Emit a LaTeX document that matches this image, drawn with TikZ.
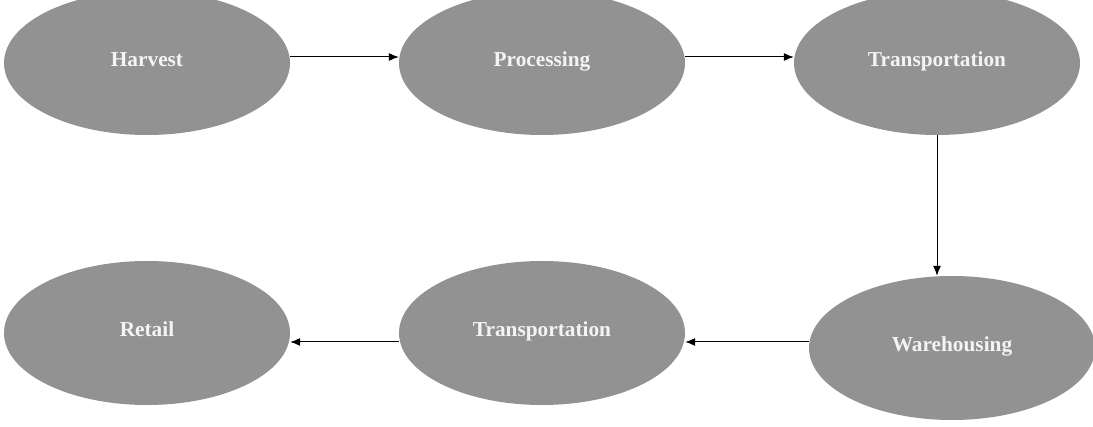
\documentclass[tikz,border=0pt]{standalone}
\usepackage{fontspec}
\setmainfont{Liberation Serif}
\usetikzlibrary{
  arrows.meta,
  shapes.geometric
}
\definecolor{stagegray}{HTML}{929292}
\definecolor{stagetext}{HTML}{F4F4F4}
\tikzset{
  % For the grey stage ellipses.
  stage/.style={
    ellipse,
    fill=stagegray,
    minimum width=286pt,
    minimum height=144pt,
    inner sep=0pt,
    text height=14pt,
    text depth=6.8pt,
    text=stagetext,
    font=\fontsize{21.3}{25}\selectfont\bfseries},
%
  % For thin connectors with one arrow.
  flow/.style={
    line width=1pt,
    -{Latex[length=10pt,width=8pt]}}
}

\begin{document}
\begin{tikzpicture}[x=1pt,y=-1pt]
  \useasboundingbox (0,0) rectangle (1093,427);

  % Upper row, left to right.
  \node[stage] (harvest) at (147,63) {Harvest};
  \node[stage] (processing) at (542,63) {Processing};
  \node[stage] (transport1) at (937,63) {Transportation};

  % Lower row, right to left.
  \node[stage] (warehousing) at (952,348) {Warehousing};
  \node[stage] (transport2) at (542,333) {Transportation};
  \node[stage] (retail) at (147,333) {Retail};

  \draw[flow] ([yshift=6pt]harvest.east) -- ([yshift=6pt]processing.west);
  \draw[flow] ([yshift=6pt]processing.east) -- ([yshift=6pt]transport1.west);
  \draw[flow] (transport1.south) -- (transport1.south |- warehousing.north);

  % Lower connectors share one height.
  \coordinate (low) at ([yshift=6pt]warehousing.west);
  \draw[flow] (low) -- (low -| transport2.east);
  \draw[flow] (low -| transport2.west) -- (low -| retail.east);
\end{tikzpicture}
\end{document}
